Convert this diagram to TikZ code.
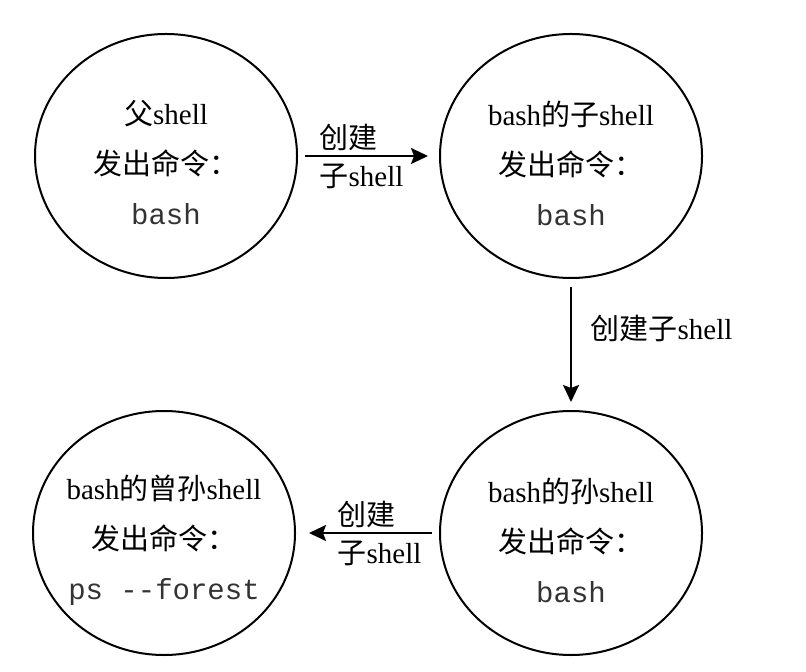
\documentclass[tikz,border=0pt]{standalone}
\usepackage{fontspec}
\setmainfont{Liberation Serif}
\setmonofont{Liberation Mono}
\newfontfamily\cjk{Noto Sans CJK SC}
\usetikzlibrary{arrows.meta,shapes.geometric}
\newcommand{\zh}[1]{{\cjk #1}}
\newcommand{\cmdtext}[1]{{\ttfamily\color{black!80}#1}}

\begin{document}
\begin{tikzpicture}[x=0.5pt, y=-0.5pt, font=\fontsize{14.5}{25}\selectfont,
    proc/.style={draw, ellipse, line width=1pt, minimum width=131pt, minimum height=122pt,
      inner sep=0pt},
    proctext/.style={align=center, yshift=-3.5pt},
    fork/.style={draw, line width=1pt, -{Stealth[length=8.5pt, width=8pt, inset=1.5pt]}},
    forklabel/.style={align=left, font=\fontsize{14.5}{19}\selectfont},
  ]
  \useasboundingbox (0, 0) rectangle (806, 672);

  % the four shells, parent first
  \node[proc] (parent) at (166, 156) {};
  \node[proc] (child) at (571, 156) {};
  \node[proc] (grandchild) at (571, 533) {};
  \node[proc] (greatgrandchild) at (164, 533) {};

  \node[proctext] (parent-txt) at (parent.center) {\zh{父}shell\\ \zh{发出命令：}\\ \cmdtext{bash}};
  \node[proctext] (child-txt) at (child.center) {bash\zh{的子}shell\\ \zh{发出命令：}\\ \cmdtext{bash}};
  \node[proctext] (grandchild-txt) at (grandchild.center) {bash\zh{的孙}shell\\ \zh{发出命令：}\\ \cmdtext{bash}};
  \node[proctext] (greatgrandchild-txt) at (greatgrandchild.center) {bash\zh{的曾孙}shell\\ \zh{发出命令：}\\ \cmdtext{ps -{}-forest}};

  % each command forks a new shell
  \draw[fork, shorten <=3.5pt, shorten >=5.5pt] (parent) -- node[forklabel, xshift=-3.5pt] {\zh{创建}\\ \zh{子}shell} (child);
  \draw[fork, shorten <=4pt, shorten >=4pt] (child) -- node[anchor=west, xshift=6pt, yshift=8pt] {\zh{创建子}shell} (grandchild);
  \draw[fork, shorten <=3.5pt, shorten >=6.5pt] (grandchild) -- node[forklabel, xshift=6pt] {\zh{创建}\\ \zh{子}shell} (greatgrandchild);
\end{tikzpicture}
\end{document}
